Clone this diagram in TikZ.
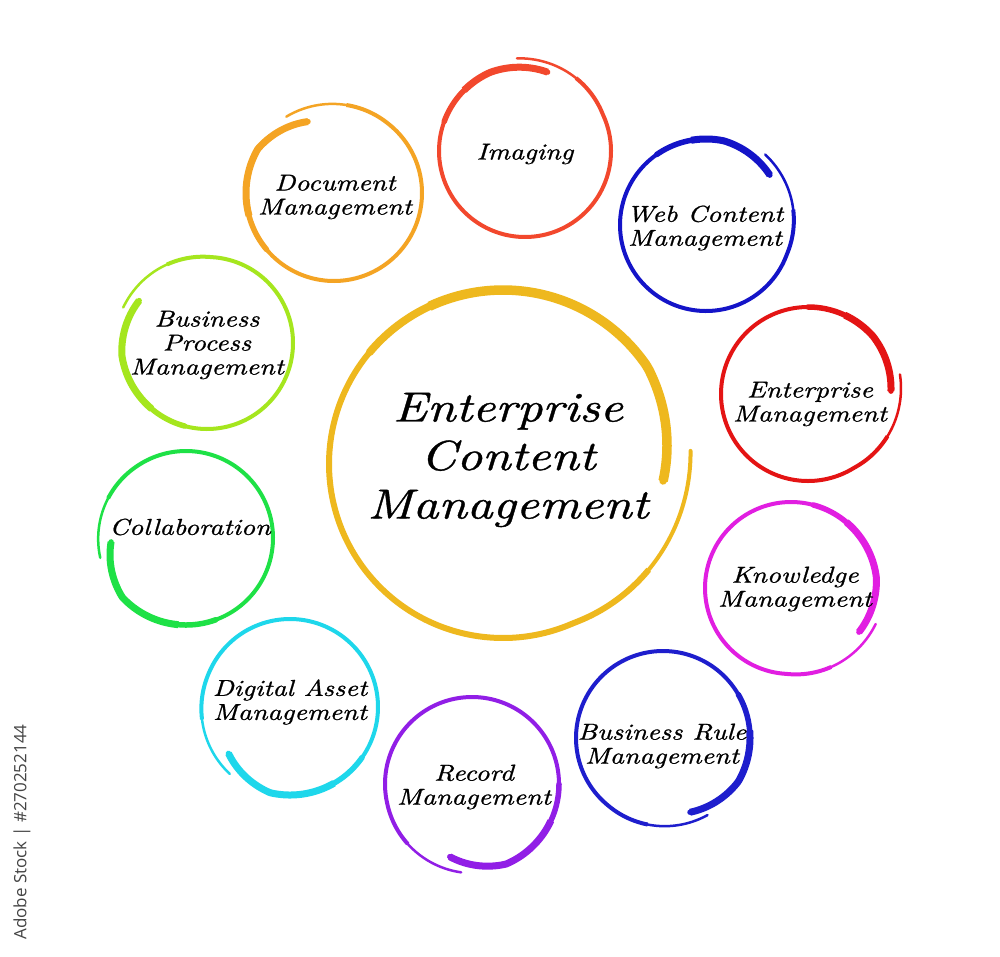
\documentclass[tikz,border=0pt]{standalone}
\usepackage{fontspec}
\newfontfamily\hand[FakeStretch=1.2,FakeBold=0.9]{lmroman10-italic.otf}
\newfontfamily\wmfont{Open Sans}
\definecolor{cecm}{RGB}{238,184,30}
\definecolor{cimg}{RGB}{242,72,45}
\definecolor{cweb}{RGB}{20,20,200}
\definecolor{cent}{RGB}{228,20,20}
\definecolor{ckno}{RGB}{225,30,225}
\definecolor{cbrm}{RGB}{30,30,205}
\definecolor{crec}{RGB}{145,30,230}
\definecolor{cdam}{RGB}{30,215,235}
\definecolor{ccol}{RGB}{30,225,70}
\definecolor{cbpm}{RGB}{165,230,30}
\definecolor{cdoc}{RGB}{244,164,36}
\definecolor{cwm}{RGB}{68,68,68}
% radius as a function of the angle \x
\newcommand\rr[5]{(#1+(#2)*max(0,1-(\x-(#3))/40)+(#4)*max(0,1-((#5)-\x)/70))}
% #1 cx, #2 cy, #3 r, #4 colour, #5 start angle, #6 end angle, #7 start offset, #8 end offset, #9 end of thick part
\newcommand\ring[9]{%
  \pgfmathsetmacro\ringa{#6-40}%
  \pgfmathsetmacro\ringb{#6-55}%
  \pgfmathsetmacro\ringc{#9+25}%
  \pgfmathsetmacro\ringw{(\bw+\tw)/2}%
  \draw[#4,line width=\bw pt] plot[domain=#5:\ringa,samples=150,smooth]
    ({#1+\rr{#3}{#7}{#5}{#8}{#6}*cos(\x)},{#2-\rr{#3}{#7}{#5}{#8}{#6}*sin(\x)});
  \draw[#4,line width=\lw pt,line cap=round] plot[domain=\ringb:#6,samples=40,smooth]
    ({#1+\rr{#3}{#7}{#5}{#8}{#6}*cos(\x)},{#2-\rr{#3}{#7}{#5}{#8}{#6}*sin(\x)});
  \draw[#4,line width=\ringw pt,line cap=round] plot[domain=#5:\ringc,samples=70,smooth]
    ({#1+\rr{#3}{#7}{#5}{#8}{#6}*cos(\x)},{#2-\rr{#3}{#7}{#5}{#8}{#6}*sin(\x)});
  \draw[#4,line width=\tw pt] plot[domain=#5:#9,samples=60,smooth]
    ({#1+\rr{#3}{#7}{#5}{#8}{#6}*cos(\x)},{#2-\rr{#3}{#7}{#5}{#8}{#6}*sin(\x)});
}
\tikzset{
  lbl/.style={font=\hand\fontsize{23}{24}\selectfont, align=center, text=black, inner sep=0pt},
  biglbl/.style={font=\hand\fontsize{42}{48.5}\selectfont, align=center, text=black, inner sep=0pt},
  wmark/.style={font=\wmfont\fontsize{17}{20}\selectfont, text=cwm, rotate=90, inner sep=0pt}
}
\begin{document}
\begin{tikzpicture}[x=1pt,y=-1pt]
\fill[white] (0,0) rectangle (1000,956);
\useasboundingbox (0,0) rectangle (1000,956);

% central circle
\def\bw{6}\def\tw{9.5}\def\lw{4}
\ring{503}{464}{174}{cecm}{-6}{364}{-13}{14}{115}

% outer circles
\def\bw{4}\def\tw{7}\def\lw{2.5}
\ring{525}{151}{86}{cimg}{74}{455}{-4}{7}{135}
\ring{706}{225}{86}{cweb}{38}{410}{-5}{6}{100}
\ring{808}{394}{87}{cent}{2}{372}{-4}{7}{65}
\ring{791}{588}{86}{ckno}{-33}{337}{-5}{6}{50}
\ring{663}{738}{87}{cbrm}{-70}{300}{-8}{2}{5}
\ring{472}{784}{87}{crec}{-107}{263}{-11}{2}{-25}
\ring{290}{707}{88}{cdam}{-143}{228}{-11}{2}{-60}
\ring{186}{538}{87}{ccol}{183}{553}{-12}{1}{265}
\ring{207}{343}{86}{cbpm}{148}{517}{-6}{5}{230}
\ring{334}{193}{88}{cdoc}{110}{482}{-12}{2}{195}

% labels
\node[biglbl] (ecm) at (508,460) {Enterprise\\Content\\Management};
\node[lbl] (img) at (525,154) {Imaging};
\node[lbl] (web) at (705,228) {Web Content\\Management};
\node[lbl] (ent) at (810,404) {Enterprise\\Management};
\node[lbl] (kno) at (795,589) {Knowledge\\Management};
\node[lbl] (brm) at (662,746) {Business Rule\\Management};
\node[lbl] (rec) at (474,787) {Record\\Management};
\node[lbl] (dam) at (290,702) {Digital Asset\\Management};
\node[lbl] (col) at (190,527) {Collaboration};
\node[lbl] (bpm) at (207,345) {Business\\Process\\Management};
\node[lbl] (doc) at (335,197) {Document\\Management};

\node[wmark] (wm) at (22,832) {Adobe Stock | \#270252144};
\end{tikzpicture}
\end{document}
